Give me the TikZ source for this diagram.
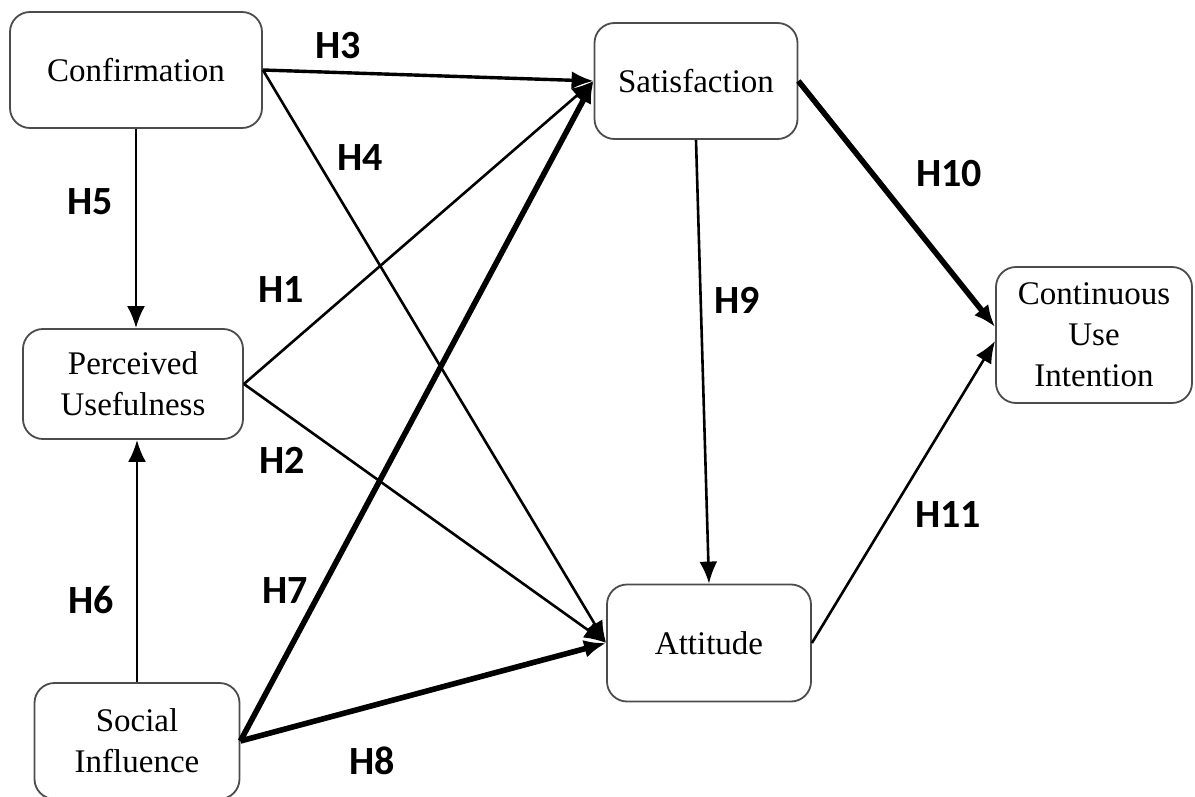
\documentclass[tikz,border=0pt]{standalone}
\usepackage{fontspec}
\setmainfont{Liberation Serif}
\newfontfamily\hypfont{Carlito}
\usetikzlibrary{arrows.meta}
\tikzset{
    construct-box/.style = {draw=black!70, fill=white, line width=0.9pt, rectangle, rounded corners=10pt, align=center, inner sep=2pt, font=\fontsize{16.5}{20.5}\selectfont},
    hyp-label/.style = {font=\hypfont\bfseries\fontsize{20}{24}\selectfont},
    path-arrow/.style = {-{Latex[length=11pt,width=9pt]}, line width=1.3pt},
    strong-arrow/.style = {path-arrow, line width=2.8pt},
}

\begin{document}
\begin{tikzpicture}[x=0.5pt, y=-0.5pt]
\useasboundingbox (0,0) rectangle (1195,797);
% constructs
\node [construct-box, minimum width=126pt, minimum height=58pt] (conf) at (136,70) {Confirmation};
\node [construct-box, minimum width=101.5pt, minimum height=58pt] (sat) at (696,81) {Satisfaction};
\node [construct-box, minimum width=110pt, minimum height=55pt] (pu) at (133,384) {Perceived\\Usefulness};
\node [construct-box, minimum width=98pt, minimum height=68pt] (cui) at (1094,335) {Continuous\\Use\\Intention};
\node [construct-box, minimum width=102pt, minimum height=58.5pt] (att) at (709,643) {Attitude};
\node [construct-box, minimum width=102.5pt, minimum height=58pt] (si) at (137,741) {Social\\Influence};

% hypothesised paths
\draw [path-arrow, line width=1.7pt] (conf.east) -- (sat.west);
\draw [path-arrow] (conf.east) -- (att.west);
\draw [path-arrow] (conf.south) -- (conf.south |- pu.north);
\draw [path-arrow] (pu.east) -- (sat.west);
\draw [path-arrow] (pu.east) -- (att.west);
\draw [path-arrow] (si.north) -- (si.north |- pu.south);
\draw [strong-arrow] (si.east) -- (sat.west);
\draw [strong-arrow] (si.east) -- (att.west);
\draw [path-arrow] (sat.south) -- (att.north);
\draw [strong-arrow] (sat.east) -- ([yshift=4pt]cui.west);
\draw [path-arrow] (att.east) -- ([yshift=-3pt]cui.west);

% labels
\node [hyp-label] (h1) at (281,290) {H1};
\node [hyp-label] (h2) at (282,460) {H2};
\node [hyp-label] (h3) at (338,46) {H3};
\node [hyp-label] (h4) at (360,158) {H4};
\node [hyp-label] (h5) at (90,202) {H5};
\node [hyp-label] (h6) at (91,600) {H6};
\node [hyp-label] (h7) at (285,591) {H7};
\node [hyp-label] (h8) at (372,761) {H8};
\node [hyp-label] (h9) at (737,300) {H9};
\node [hyp-label] (h10) at (949,174) {H10};
\node [hyp-label] (h11) at (948,515) {H11};
\end{tikzpicture}
\end{document}
